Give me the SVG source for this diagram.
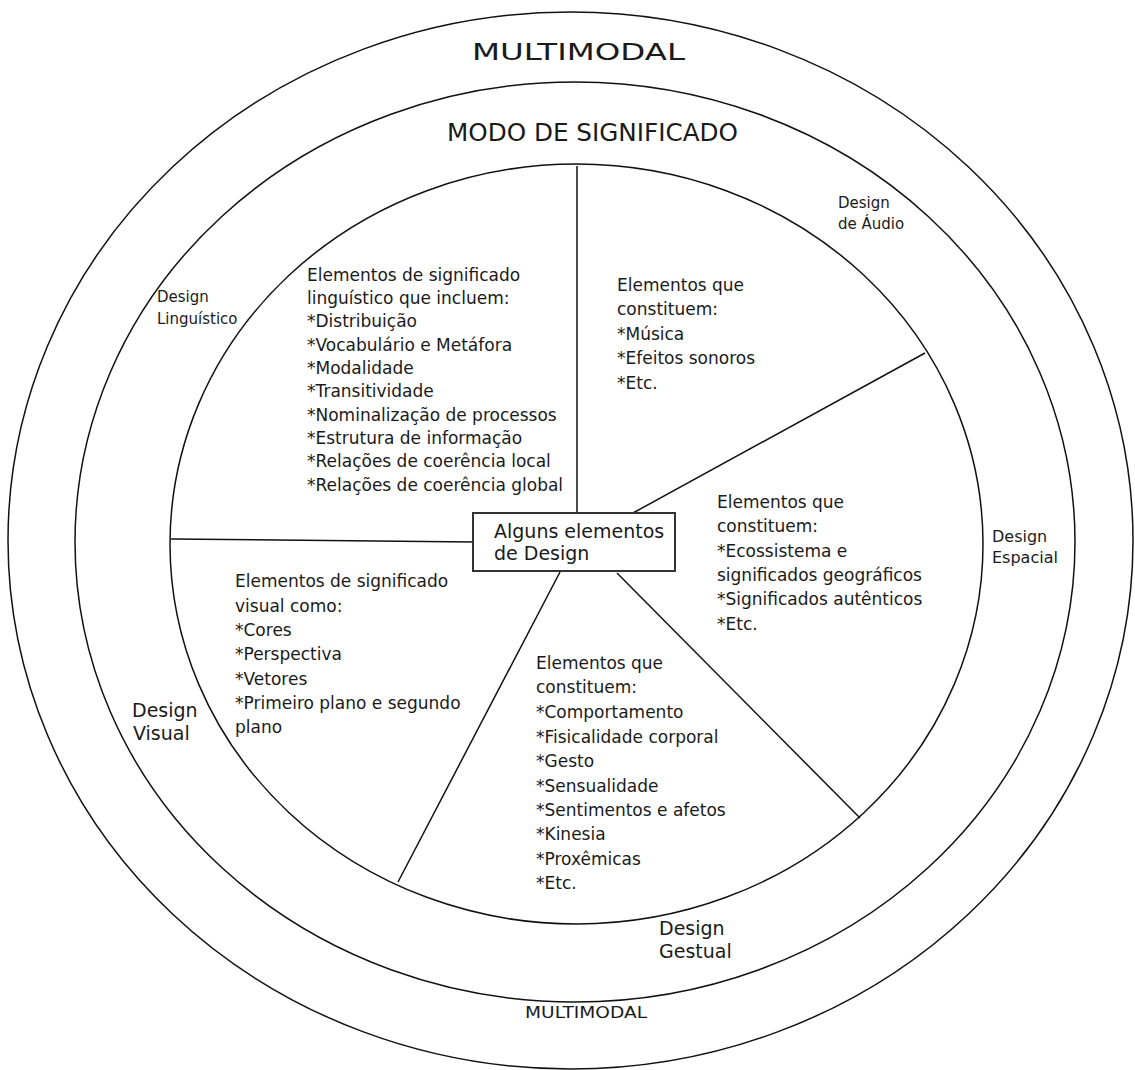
<svg xmlns="http://www.w3.org/2000/svg" width="1135" height="1070" viewBox="0 0 1135 1070">
<style>
.ring{fill:none;stroke:#111;stroke-width:1.5}
.conn{stroke:#111;stroke-width:1.5;fill:none}
text{font-family:"DejaVu Sans","Liberation Sans",sans-serif;fill:#1a1a1a}
.body{font-size:17px}
.lab{font-size:19px}
.small{font-size:15px}
</style>
<rect width="1135" height="1070" fill="#fff"/>
<g id="multimodal">
<ellipse class="ring" cx="570.5" cy="540.5" rx="562.5" ry="528.5"/>
<text x="472" y="60" font-size="23" textLength="213" lengthAdjust="spacingAndGlyphs">MULTIMODAL</text>
<text x="525" y="1018" font-size="15" textLength="122" lengthAdjust="spacingAndGlyphs">MULTIMODAL</text>
</g>
<g id="modo">
<ellipse class="ring" cx="575" cy="542" rx="500" ry="460"/>
<text x="447" y="141" font-size="25" textLength="291" lengthAdjust="spacingAndGlyphs">MODO DE SIGNIFICADO</text>
</g>
<g id="inner">
<ellipse class="ring" cx="576.5" cy="544" rx="406.5" ry="380"/>
</g>
<g id="connectors">
<line class="conn" x1="577" y1="166" x2="577" y2="513"/>
<line class="conn" x1="633" y1="513" x2="925" y2="353"/>
<line class="conn" x1="171" y1="539" x2="473" y2="542"/>
<line class="conn" x1="560" y1="572" x2="398" y2="882"/>
<line class="conn" x1="617" y1="573" x2="860" y2="818"/>
</g>
<g id="center">
<rect x="473" y="513" width="202" height="58" fill="#fff" stroke="#333" stroke-width="2"/>
<text class="lab" x="494" y="538">Alguns elementos</text>
<text class="lab" x="494" y="560">de Design</text>
</g>
<g id="linguistico">
<text class="small" x="157" y="302">Design</text>
<text class="small" x="157" y="324">Linguístico</text>
<text class="body" x="307" y="281">Elementos de significado</text>
<text class="body" x="307" y="304">linguístico que incluem:</text>
<text class="body" x="307" y="327">*Distribuição</text>
<text class="body" x="307" y="351">*Vocabulário e Metáfora</text>
<text class="body" x="307" y="374">*Modalidade</text>
<text class="body" x="307" y="397">*Transitividade</text>
<text class="body" x="307" y="421">*Nominalização de processos</text>
<text class="body" x="307" y="444">*Estrutura de informação</text>
<text class="body" x="307" y="467">*Relações de coerência local</text>
<text class="body" x="307" y="491">*Relações de coerência global</text>
</g>
<g id="audio">
<text class="small" x="838" y="208">Design</text>
<text class="small" x="838" y="229">de Áudio</text>
<text class="body" x="617" y="291">Elementos que</text>
<text class="body" x="617" y="315">constituem:</text>
<text class="body" x="617" y="340">*Música</text>
<text class="body" x="617" y="364">*Efeitos sonoros</text>
<text class="body" x="617" y="389">*Etc.</text>
</g>
<g id="espacial">
<text font-size="16" x="992" y="542">Design</text>
<text font-size="16" x="992" y="563">Espacial</text>
<text class="body" x="717" y="508">Elementos que</text>
<text class="body" x="717" y="532">constituem:</text>
<text class="body" x="717" y="557">*Ecossistema e</text>
<text class="body" x="717" y="581">significados geográficos</text>
<text class="body" x="717" y="605">*Significados autênticos</text>
<text class="body" x="717" y="630">*Etc.</text>
</g>
<g id="visual">
<text class="lab" x="132" y="717">Design</text>
<text class="lab" x="133" y="740">Visual</text>
<text class="body" x="235" y="587">Elementos de significado</text>
<text class="body" x="235" y="612">visual como:</text>
<text class="body" x="235" y="636">*Cores</text>
<text class="body" x="235" y="660">*Perspectiva</text>
<text class="body" x="235" y="685">*Vetores</text>
<text class="body" x="235" y="709">*Primeiro plano e segundo</text>
<text class="body" x="235" y="733">plano</text>
</g>
<g id="gestual">
<text class="lab" x="659" y="935">Design</text>
<text class="lab" x="659" y="958">Gestual</text>
<text class="body" x="536" y="669">Elementos que</text>
<text class="body" x="536" y="693">constituem:</text>
<text class="body" x="536" y="718">*Comportamento</text>
<text class="body" x="536" y="743">*Fisicalidade corporal</text>
<text class="body" x="536" y="767">*Gesto</text>
<text class="body" x="536" y="792">*Sensualidade</text>
<text class="body" x="536" y="816">*Sentimentos e afetos</text>
<text class="body" x="536" y="840">*Kinesia</text>
<text class="body" x="536" y="865">*Proxêmicas</text>
<text class="body" x="536" y="889">*Etc.</text>
</g>
</svg>
